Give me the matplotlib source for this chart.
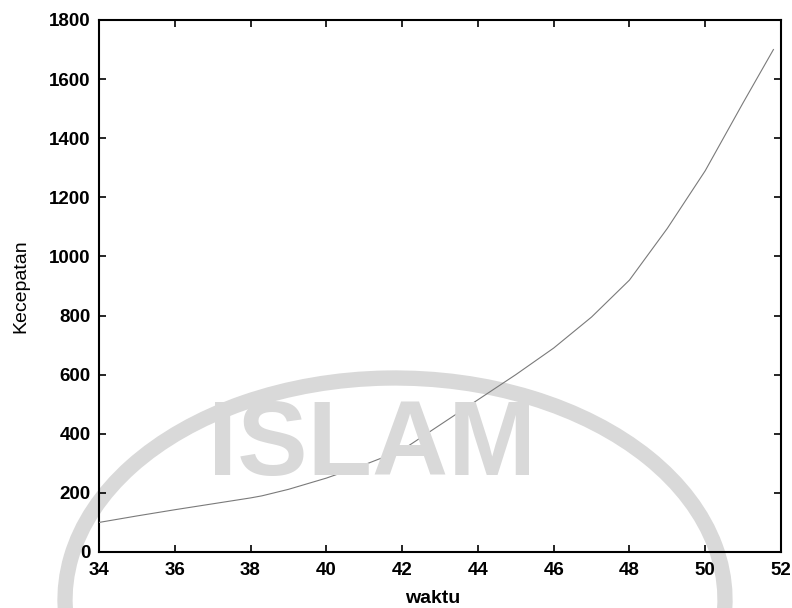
import numpy as np
import matplotlib
matplotlib.use("Agg")
import matplotlib.pyplot as plt
from matplotlib.patches import Arc
import matplotlib.transforms as mtransforms

# data
waktu = [34, 35, 36, 37, 38, 38.3, 39, 40, 41, 42, 43, 44, 45, 46, 47, 48, 49, 50, 51, 51.8]
kecepatan = [100, 122, 143, 163, 183, 190, 212, 250, 295, 345, 430, 515, 600, 690, 795, 920, 1095, 1290, 1520, 1700]
xticks = [34, 36, 38, 40, 42, 44, 46, 48, 50, 52]
yticks = [0, 200, 400, 600, 800, 1000, 1200, 1400, 1600, 1800]

plt.rcParams["font.family"] = ["Liberation Sans", "DejaVu Sans"]

fig = plt.figure(figsize=(7.92, 6.08), dpi=100)
ax = fig.add_axes([99 / 792, 56 / 608, 682 / 792, 532 / 608])
ax.set_facecolor("none")

# faint watermark from the scan
wm = "#d9d9d9"
fig.text(372 / 792, 1 - 447 / 608, "ISLAM", fontsize=76, color=wm,
         fontweight="bold", ha="center", va="center", zorder=0)
ring = Arc((395, 608 - 600), 660, 444, theta1=-8, theta2=190, color=wm,
           lw=11, transform=mtransforms.IdentityTransform(), zorder=0)
fig.add_artist(ring)

ax.plot(waktu, kecepatan, color="#7a7a7a", lw=0.8, zorder=3)

ax.set_xlim(34, 52)
ax.set_ylim(0, 1800)
ax.set_xticks(xticks)
ax.set_yticks(yticks)
ax.tick_params(direction="in", top=True, right=True, length=5, width=1.2,
               labelsize=13.5)
ax.tick_params(axis="x", pad=7)
ax.tick_params(axis="y", pad=6)
for lab in ax.get_xticklabels() + ax.get_yticklabels():
    lab.set_fontweight("bold")
for s in ax.spines.values():
    s.set_linewidth(1.5)

ax.set_xlabel("waktu", fontsize=14, fontweight="bold")
ax.set_ylabel("Kecepatan", fontsize=14)
ax.xaxis.set_label_coords(0.49, -0.087)
ax.xaxis.label.set_va("center")
ax.yaxis.set_label_coords(-0.115, 0.5)
ax.yaxis.label.set_va("center")

fig.savefig("out.png", dpi=100)
